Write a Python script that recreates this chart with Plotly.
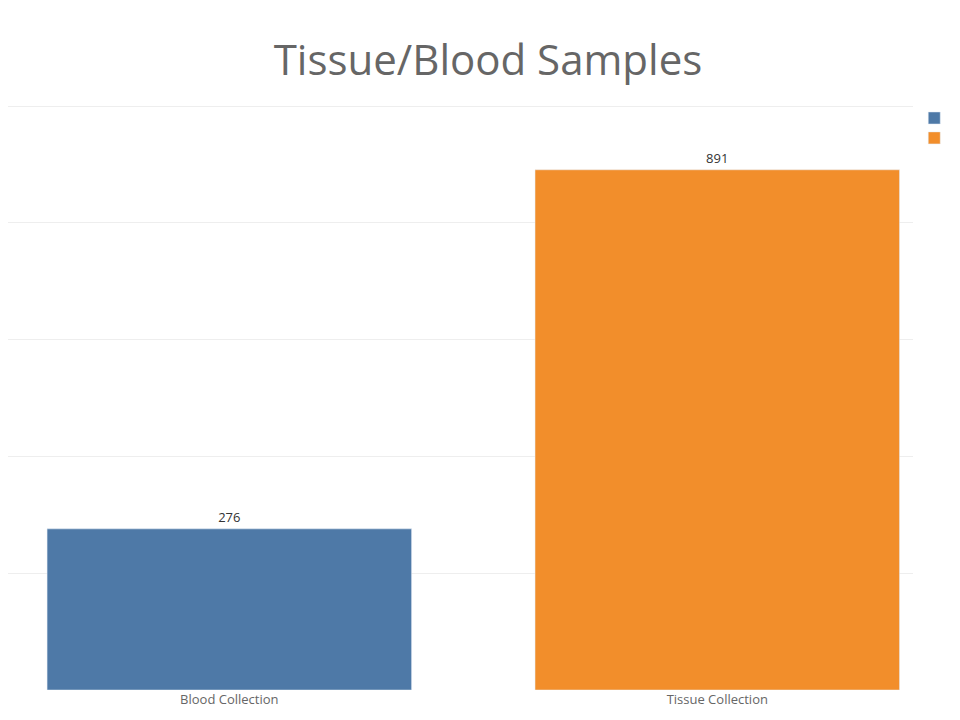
import plotly.graph_objects as go

categories = ["Blood Collection", "Tissue Collection"]
values = [276, 891]
colors = ["#4e79a7", "#f28e2b"]

fig = go.Figure()
for c, v, col in zip(categories, values, colors):
    fig.add_trace(go.Bar(x=[c], y=[v], name=c, marker_color=col, width=0.747,
                         text=[v], textposition="outside", cliponaxis=False,
                         textfont=dict(size=13, color="#333")))

fig.update_layout(
    width=960, height=720, barmode="overlay",
    paper_bgcolor="white", plot_bgcolor="white",
    font=dict(family="Open Sans", color="#666"),
    title=dict(text="Tissue/Blood Samples", x=0.5, xanchor="center", y=0.928, yanchor="middle",
               font=dict(size=42, color="#666", family="Open Sans")),
    margin=dict(l=0, r=55, t=97, b=38, autoexpand=False),
    xaxis=dict(range=[-0.4536, 1.4011], showgrid=False, showline=False, ticks="",
               tickfont=dict(size=13, color="#666")),
    yaxis=dict(range=[0, 1002], dtick=200, showticklabels=False, gridcolor="#eeeeee",
               zeroline=False),
    legend=dict(xref="container", yref="container", x=0.944, xanchor="left", y=0.868,
                yanchor="top", bgcolor="rgba(0,0,0,0)", itemwidth=30,
                font=dict(size=13, color="#555")),
)
fig.write_html("out.html")
